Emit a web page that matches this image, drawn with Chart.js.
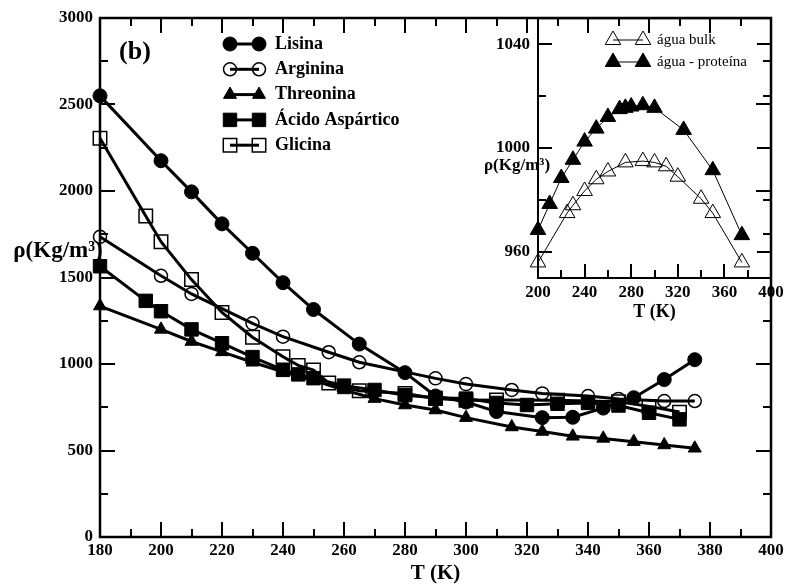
<!DOCTYPE html>
<html>
<head>
<meta charset="utf-8">
<script src="https://cdn.jsdelivr.net/npm/chart.js@4.4.0/dist/chart.umd.min.js"></script>
<style>
  html,body{margin:0;padding:0;background:#fff;}
  #wrap{position:relative;width:789px;height:587px;}
  #wrap canvas{position:absolute;left:0;top:0;}
</style>
</head>
<body>
<div id="wrap">
  <canvas id="mainChart" width="789" height="587"></canvas>
  <canvas id="insetChart" width="789" height="587"></canvas>
</div>
<script>
const serif = "'Liberation Serif', 'Times New Roman', serif";

/* ---------- MAIN DATA (T in K, rho in Kg/m3) ---------- */
const lisinaT   = [180,200,210,220,230,240,250,265,280,290,300,310,325,335,345,355,365,375];
const lisinaRho = [2550,2175,1995,1810,1640,1470,1315,1115,950,815,780,725,690,692,745,805,910,1025];

const argininaT   = [180,200,210,230,240,255,265,290,300,315,325,340,350,365,375];
const argininaRho = [1735,1510,1405,1235,1158,1068,1010,917,884,850,830,815,798,786,786];

const threoninaT   = [180,200,210,220,230,240,250,260,270,280,290,300,315,325,335,345,355,365,375];
const threoninaRho = [1335,1200,1130,1070,1010,955,905,850,800,763,734,690,636,610,582,570,551,532,513];

const acidoT   = [180,195,200,210,220,230,240,245,250,260,270,280,290,300,310,320,330,340,350,360,370];
const acidoRho = [1565,1365,1305,1200,1120,1040,966,940,918,875,850,820,805,800,775,763,770,775,760,718,680];

const glicinaT   = [180,195,200,210,220,230,240,245,250,255,265,280,290,300,310,330,350,360,370];
const glicinaRho = [2305,1855,1707,1488,1298,1155,1042,992,965,890,845,830,800,790,792,790,782,755,722];

/* ---------- INSET DATA ---------- */
const bulkT   = [200,225,230,240,250,260,275,290,300,310,320,340,350,375];
const bulkRho = [956,975,978,983.5,988,991,994.5,995,994.5,993,989,980.5,975,956];

const protT   = [200,210,220,230,240,250,260,270,275,280,290,300,325,350,375];
const protRho = [968.5,978.5,988.5,995.5,1002.5,1007.5,1012,1015,1015.5,1016,1016.5,1015.5,1007,991.5,966.5];

const insetYTicks = [960,1000,1040];

/* ---------- HELPERS ---------- */
function pts(xs, ys){ return xs.map((x,i)=>({x:x, y:ys[i]})); }
const plain = v => String(v);

function series(label, xs, ys, style, r, filled, lw, pbw){
  return {
    label: label,
    data: pts(xs, ys),
    showLine: true,
    borderColor: '#000',
    borderWidth: lw,
    pointStyle: style,
    pointRadius: r,
    pointHoverRadius: r,
    pointBorderWidth: pbw,
    pointBorderColor: '#000',
    pointBackgroundColor: filled ? '#000' : 'rgba(0,0,0,0)',
    clip: false,
    tension: 0
  };
}

// inward ticks, xmgrace style
function inwardTicks(chart, c){
  const {ctx, chartArea:a, scales:{x, y}} = chart;
  ctx.save();
  ctx.strokeStyle = '#000';
  ctx.lineWidth = 2;
  ctx.beginPath();
  for(let v=c.x0; v<=c.x1; v+=c.xs){
    const len = (v % c.xm === 0) ? c.major : c.minor;
    const px = Math.round(x.getPixelForValue(v));
    if(c.bottom){ ctx.moveTo(px, a.bottom); ctx.lineTo(px, a.bottom-len); }
    if(c.top){ ctx.moveTo(px, a.top); ctx.lineTo(px, a.top+len); }
  }
  for(let v=c.y0; v<=c.y1; v+=c.ys){
    const len = (v % c.ym === 0) ? c.major : c.minor;
    const py = Math.round(y.getPixelForValue(v));
    if(c.left){ ctx.moveTo(a.left, py); ctx.lineTo(a.left+len, py); }
    if(c.right){ ctx.moveTo(a.right, py); ctx.lineTo(a.right-len, py); }
  }
  ctx.stroke();
  ctx.lineWidth = c.frame;
  ctx.strokeRect(a.left, a.top, a.right-a.left, a.bottom-a.top);
  ctx.restore();
}

function drawLegend(chart, c){
  const ctx = chart.ctx;
  ctx.save();
  chart.data.datasets.forEach((ds,i)=>{
    const yy = c.y + i*c.dy;
    ctx.strokeStyle = '#000';
    ctx.lineWidth = ds.borderWidth;
    ctx.beginPath(); ctx.moveTo(c.x1, yy); ctx.lineTo(c.x2, yy); ctx.stroke();
    const opt = {pointStyle: ds.pointStyle, radius: ds.pointRadius, rotation: 0, borderWidth: ds.pointBorderWidth};
    ctx.fillStyle = ds.pointBackgroundColor;
    ctx.lineWidth = ds.pointBorderWidth;
    Chart.helpers.drawPoint(ctx, opt, c.x1, yy);
    Chart.helpers.drawPoint(ctx, opt, c.x2, yy);
    ctx.fillStyle = '#000';
    ctx.font = c.font;
    ctx.textAlign = 'left';
    ctx.textBaseline = 'middle';
    ctx.fillText(ds.label, c.tx, yy);
  });
  ctx.restore();
}

/* ---------- MAIN CHART ---------- */
const mainDecor = {
  id: 'mainDecor',
  beforeDatasetsDraw(chart){
    const ctx = chart.ctx;
    ctx.save();
    ctx.fillStyle = '#000';
    ctx.font = 'bold 23px ' + serif;
    ctx.textAlign = 'center';
    ctx.textBaseline = 'middle';
    ctx.fillText('ρ(Kg/m³)', 58, 251);
    ctx.font = 'bold 26px ' + serif;
    ctx.fillText('(b)', 135, 52);
    ctx.restore();
    inwardTicks(chart, {x0:180, x1:400, xs:10, xm:20, y0:0, y1:3000, ys:250, ym:500,
      major:15, minor:8, frame:2.5, bottom:true, top:true, left:true, right:true});
  },
  afterDraw(chart){
    drawLegend(chart, {x1:230, x2:259, tx:275, y:44, dy:25.3, font:'bold 18px ' + serif});
  }
};

new Chart(document.getElementById('mainChart'), {
  type: 'scatter',
  data: {
    datasets: [
      series('Lisina', lisinaT, lisinaRho, 'circle', 7, true, 3, 1),
      series('Arginina', argininaT, argininaRho, 'circle', 6.5, false, 3, 1.5),
      series('Threonina', threoninaT, threoninaRho, 'triangle', 7.5, true, 3, 1),
      series('Ácido Aspártico', acidoT, acidoRho, 'rect', 9.5, true, 3, 1),
      series('Glicina', glicinaT, glicinaRho, 'rect', 9.5, false, 3, 1.5)
    ]
  },
  options: {
    responsive: false,
    animation: false,
    layout: {padding: {left:0, right:18, top:18, bottom:0}},
    plugins: {legend:{display:false}, tooltip:{enabled:false}},
    scales: {
      x: {
        type: 'linear', min: 180, max: 400,
        grid: {display:false, drawTicks:false},
        border: {display:false},
        ticks: {stepSize:20, color:'#000', padding:3, maxRotation:0, autoSkip:false, callback: plain,
          font:{family:serif, size:17, weight:'bold'}},
        title: {display:true, text:'T (K)', color:'#000', padding:{top:0, bottom:1},
          font:{family:serif, size:21, weight:'bold'}},
        afterFit: s => { s.height = 50; }
      },
      y: {
        type: 'linear', min: 0, max: 3000,
        grid: {display:false, drawTicks:false},
        border: {display:false},
        ticks: {stepSize:500, color:'#000', padding:7, callback: plain,
          font:{family:serif, size:17, weight:'bold'}},
        afterFit: s => { s.width = 100; }
      }
    }
  },
  plugins: [mainDecor]
});

/* ---------- INSET CHART ---------- */
const insetDecor = {
  id: 'insetDecor',
  beforeDatasetsDraw(chart){
    inwardTicks(chart, {x0:200, x1:400, xs:20, xm:40, y0:960, y1:1040, ys:20, ym:40,
      major:14, minor:8, frame:2, bottom:true, top:false, left:true, right:true});
  },
  afterDraw(chart){
    const ctx = chart.ctx;
    ctx.save();
    ctx.fillStyle = '#000';
    ctx.font = 'bold 17px ' + serif;
    ctx.textAlign = 'center';
    ctx.textBaseline = 'middle';
    ctx.fillText('ρ(Kg/m³)', 517, 166);
    ctx.restore();
    drawLegend(chart, {x1:613, x2:643, tx:657, y:40, dy:22, font:'15px ' + serif});
  }
};

new Chart(document.getElementById('insetChart'), {
  type: 'scatter',
  data: {
    datasets: [
      series('água bulk', bulkT, bulkRho, 'triangle', 9, false, 1, 1),
      series('água - proteína', protT, protRho, 'triangle', 9, true, 1, 1)
    ]
  },
  options: {
    responsive: false,
    animation: false,
    layout: {padding: {left:478, right:18, top:18, bottom:264}},
    plugins: {legend:{display:false}, tooltip:{enabled:false}},
    scales: {
      x: {
        type: 'linear', min: 200, max: 400,
        grid: {display:false, drawTicks:false},
        border: {display:false},
        ticks: {stepSize:40, color:'#000', padding:4, maxRotation:0, autoSkip:false, callback: plain,
          font:{family:serif, size:17, weight:'bold'}},
        title: {display:true, text:'T (K)', color:'#000', padding:{top:0, bottom:0},
          font:{family:serif, size:18, weight:'bold'}},
        afterFit: s => { s.height = 45; }
      },
      y: {
        type: 'linear', min: 950, max: 1050,
        grid: {display:false, drawTicks:false},
        border: {display:false},
        afterBuildTicks: s => { s.ticks = insetYTicks.map(v => ({value:v})); },
        ticks: {color:'#000', padding:8, callback: plain,
          font:{family:serif, size:17, weight:'bold'}},
        afterFit: s => { s.width = 60; }
      }
    }
  },
  plugins: [insetDecor]
});
</script>
</body>
</html>
